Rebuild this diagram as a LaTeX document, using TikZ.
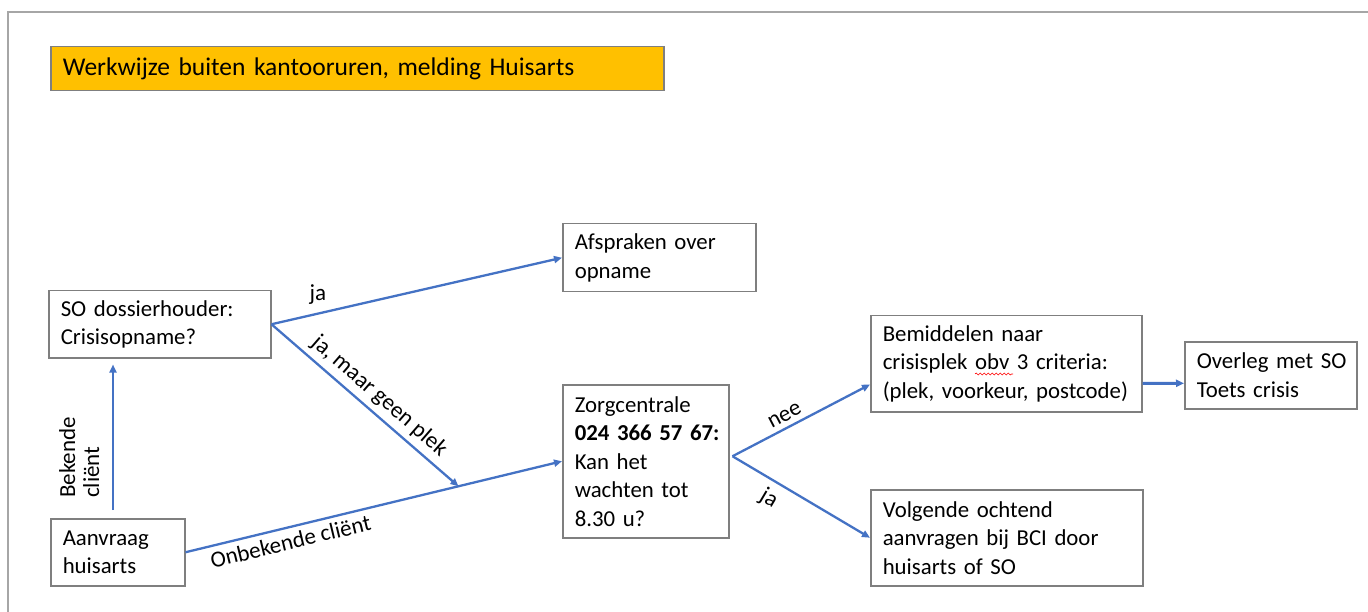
\documentclass[tikz,border=0pt]{standalone}
\usepackage{fontspec}
\setmainfont{Carlito}
\usetikzlibrary{arrows.meta,calc,decorations.pathmorphing}
\definecolor{arrowblue}{HTML}{4472C4}
\definecolor{boxgray}{HTML}{7F7F7F}
\definecolor{framegray}{HTML}{A6A6A6}
\definecolor{titleorange}{HTML}{FFC000}
\newcommand{\oneline}[1]{\mbox{#1}}
\begin{document}
\begin{tikzpicture}[x=1pt,y=-1pt,
  box/.style={draw=boxgray, line width=1.5pt, fill=white, anchor=north west,
    inner xsep=12pt, inner ysep=0pt, align=left,
    font=\fontsize{22.8}{28.5}\selectfont},
  arr/.style={draw=arrowblue, line width=2.3pt, -{Triangle[length=8pt,width=7pt]}},
  lbl/.style={font=\fontsize{23}{26}\selectfont, inner sep=2pt}
]
\useasboundingbox (0,0) rectangle (1368,612);
\draw[framegray, line width=2pt] (8,620) -- (8,12) -- (1376,12);

\node[box, fill=titleorange, minimum width=613pt, minimum height=44pt, text width=589pt,
  font=\fontsize{25.5}{28}\selectfont] (title) at (50,46) {\oneline{Werkwijze buiten kantooruren, melding Huisarts}};

\node[box, minimum width=222pt, minimum height=67pt, text width=198pt] (so) at (48,290) {\oneline{SO dossierhouder:}\\\oneline{Crisisopname?}};
\node[box, minimum width=134pt, minimum height=67pt, text width=110pt] (aan) at (50,518) {\oneline{Aanvraag}\\\oneline{huisarts}};
\node[box, minimum width=193pt, minimum height=68pt, text width=169pt] (afs) at (562,223) {\oneline{Afspraken over}\\\oneline{opname}};
\node[box, minimum width=166pt, minimum height=153pt, text width=142pt] (zorg) at (562,384) {\oneline{Zorgcentrale}\\\oneline{\textbf{024 366 57 67:}}\\\oneline{Kan het}\\\oneline{wachten tot}\\\oneline{8.30 u?}};
\node[box, minimum width=271pt, minimum height=96pt, text width=247pt] (bem) at (870,315) {\oneline{Bemiddelen naar}\\\oneline{crisisplek obv 3 criteria:}\\\oneline{(plek, voorkeur, postcode)}};
\node[box, minimum width=172pt, minimum height=67pt, text width=148pt] (over) at (1184,341) {\oneline{Overleg met SO}\\\oneline{Toets crisis}};
\node[box, minimum width=272pt, minimum height=96pt, text width=248pt] (volg) at (870,489) {\oneline{Volgende ochtend}\\\oneline{aanvragen bij BCI door}\\\oneline{huisarts of SO}};

% spell-check squiggle under "obv"
\draw[red, line width=0.6pt, decorate, decoration={snake, amplitude=1pt, segment length=4pt}]
  ($(bem.north west)+(105,59)$) -- ($(bem.north west)+(143,59)$);

\coordinate (m) at ($(aan.east)!0.725!(zorg.west)$);

\draw[arr] ($(aan.north west)+(63,-8)$) -- ($(so.south west)+(65,6)$);
\node[lbl, rotate=90, anchor=north west, align=left, inner sep=0pt,
  font=\fontsize{23}{24}\selectfont] (bek) at ($(aan.north west)+(9,-20)$) {Bekende\\cliënt};
\draw[arr] (so.east) -- (afs.west) node[pos=0.16, lbl, above=6pt] {ja};
\draw[arr] (so.east) -- (m) node[pos=0.52, lbl, sloped, above=3pt] {ja, maar geen plek};
\draw[arr] (aan.east) -- (zorg.west) node[pos=0.27, lbl, sloped, below=3pt] {Onbekende cliënt};
\draw[arr] ($(zorg.east)+(3,-5)$) -- ($(bem.south west)+(0,-28)$) node[pos=0.42, lbl, sloped, above=3pt] {nee};
\draw[arr] ($(zorg.east)+(3,-5)$) -- (volg.west) node[pos=0.33, lbl, sloped, below=5pt] {ja};
\draw[arr, line width=3pt] ($(bem.south east)+(0,-29)$) -- ($(over.west)+(0,8)$);
\end{tikzpicture}
\end{document}
